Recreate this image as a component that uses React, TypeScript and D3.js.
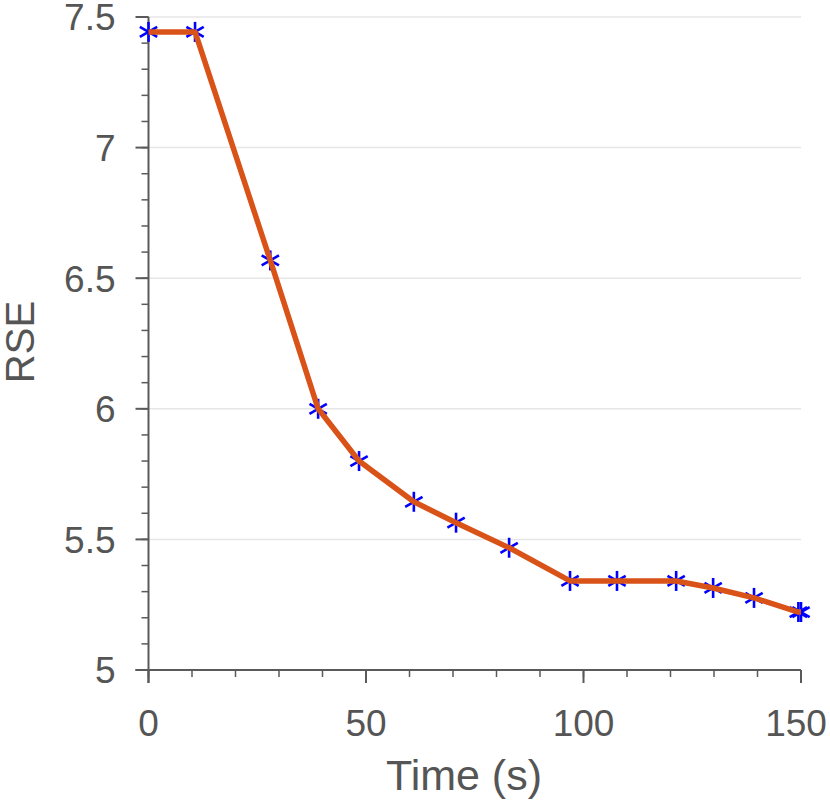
import React from "react";
import * as d3 from "d3";

const timeValues = [0, 10.7, 28, 39, 48.4, 61, 70.7, 82.9, 96.9, 107.7, 121.3, 129.8, 139.2, 149.4, 150];
const rseValues = [7.443, 7.443, 6.568, 6.0, 5.8, 5.644, 5.564, 5.468, 5.341, 5.341, 5.341, 5.314, 5.276, 5.222, 5.222];
const xTicks = [0, 50, 100, 150];
const yTicks = [5, 5.5, 6, 6.5, 7, 7.5];
const xLabel = "Time (s)";
const yLabel = "RSE";

const W = 830, H = 807;
const left = 148.5, right = 801, top = 17, bottom = 670;

export default function App() {
  const x = d3.scaleLinear().domain([0, 150]).range([left, right]);
  const y = d3.scaleLinear().domain([5, 7.5]).range([bottom, top]);
  const xMinor = d3.range(0, 151, 10);
  const yMinor = d3.range(50, 76, 1).map((v) => v / 10);
  const line = d3.line<number>().x((_, i) => x(timeValues[i])).y((d) => y(d));
  const axisColor = "#5a5a5a";
  const textColor = "#555555";
  const font = "'Liberation Sans', Arial, Helvetica, sans-serif";
  const r = 10;
  const star = (cx: number, cy: number, k: number) => {
    const a = Math.PI / 6;
    const dx = r * Math.cos(a), dy = r * Math.sin(a);
    return (
      <g key={k} stroke="#0000ff" strokeWidth={2.6}>
        <line x1={cx} y1={cy - r} x2={cx} y2={cy + r} />
        <line x1={cx - dx} y1={cy - dy} x2={cx + dx} y2={cy + dy} />
        <line x1={cx - dx} y1={cy + dy} x2={cx + dx} y2={cy - dy} />
      </g>
    );
  };
  return (
    <svg width={W} height={H} style={{ position: "absolute", left: 0, top: 0, background: "#fff" }}>
      {yTicks.map((t) => (
        <line key={"g" + t} x1={left} x2={right} y1={y(t)} y2={y(t)} stroke="#e6e6e6" strokeWidth={1.5} />
      ))}
      <line x1={left} x2={left} y1={top} y2={bottom + 13} stroke={axisColor} strokeWidth={2} />
      {yMinor.map((t) => (
        <line key={"ym" + t} x1={left - 7} x2={left} y1={y(t)} y2={y(t)} stroke={axisColor} strokeWidth={1.5} />
      ))}
      {yTicks.map((t) => (
        <g key={"yt" + t}>
          <line x1={left - 13} x2={left} y1={y(t)} y2={y(t)} stroke={axisColor} strokeWidth={2} />
          <text x={left - 33} y={y(t)} dy="0.36em" textAnchor="end" fontSize={37} fill={textColor} fontFamily={font}>
            {String(t)}
          </text>
        </g>
      ))}
      <line x1={left - 13} x2={right} y1={bottom} y2={bottom} stroke={axisColor} strokeWidth={2} />
      {xMinor.map((t) => (
        <line key={"xm" + t} x1={x(t)} x2={x(t)} y1={bottom} y2={bottom + 7} stroke={axisColor} strokeWidth={1.5} />
      ))}
      {xTicks.map((t) => (
        <g key={"xt" + t}>
          <line x1={x(t)} x2={x(t)} y1={bottom} y2={bottom + 13} stroke={axisColor} strokeWidth={2} />
          <text x={t === 150 ? x(t) - 5 : x(t)} y={736} textAnchor="middle" fontSize={37} fill={textColor} fontFamily={font}>
            {String(t)}
          </text>
        </g>
      ))}
      <text x={464} y={790} textAnchor="middle" fontSize={43} fill={textColor} fontFamily={font}>
        {xLabel}
      </text>
      <text transform={`translate(34, 342) rotate(-90)`} textAnchor="middle" fontSize={40} fill={textColor} fontFamily={font}>
        {yLabel}
      </text>
      {timeValues.map((t, i) => star(x(t), y(rseValues[i]), i))}
      <path d={line(rseValues) || ""} fill="none" stroke="#D95319" strokeWidth={5.5} strokeLinejoin="round" />
    </svg>
  );
}
